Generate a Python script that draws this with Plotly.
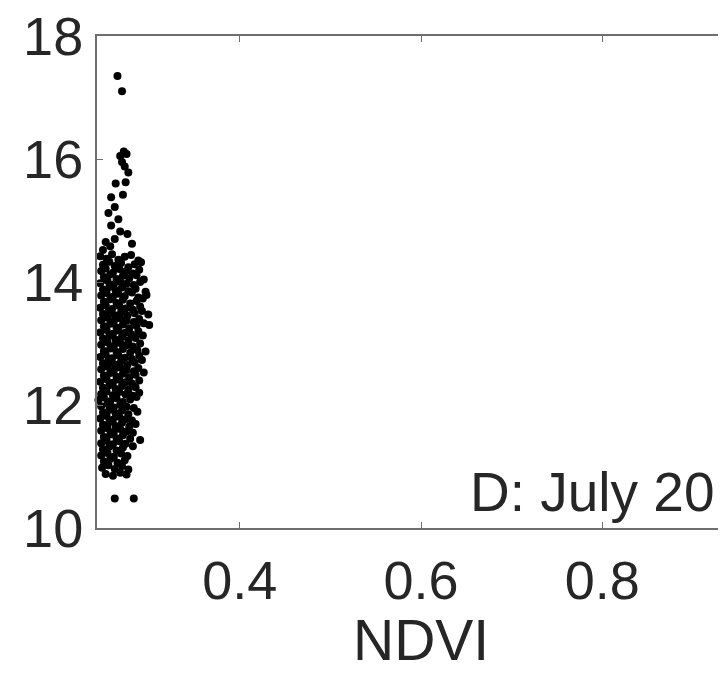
import plotly.graph_objects as go

# NDVI (x) and land surface temperature (y) values
ndvi = [
    0.265, 0.270, 0.268, 0.272, 0.275, 0.270, 0.273, 0.277, 0.274, 0.263, 0.258, 0.271,
    0.262, 0.255, 0.266, 0.258, 0.268, 0.276, 0.262, 0.252, 0.281, 0.257, 0.249,
    0.246, 0.253, 0.259, 0.266, 0.273, 0.280, 0.288,
    0.249, 0.256, 0.262, 0.269, 0.277, 0.284, 0.291,
    0.247, 0.252, 0.260, 0.267, 0.274, 0.282, 0.289,
    0.250, 0.257, 0.264, 0.271, 0.278, 0.286, 0.294,
    0.246, 0.254, 0.261, 0.268, 0.275, 0.283, 0.290,
    0.249, 0.256, 0.263, 0.270, 0.277, 0.285, 0.296,
    0.247, 0.253, 0.260, 0.266, 0.273, 0.281, 0.288, 0.297,
    0.250, 0.257, 0.264, 0.271, 0.279, 0.286, 0.293,
    0.246, 0.252, 0.259, 0.267, 0.274, 0.282, 0.290,
    0.249, 0.255, 0.262, 0.269, 0.276, 0.284, 0.292, 0.299,
    0.247, 0.254, 0.261, 0.268, 0.275, 0.283, 0.289,
    0.250, 0.257, 0.264, 0.271, 0.278, 0.286, 0.294, 0.300,
    0.246, 0.253, 0.260, 0.266, 0.273, 0.280, 0.288,
    0.249, 0.256, 0.263, 0.270, 0.277, 0.285, 0.293,
    0.247, 0.254, 0.261, 0.268, 0.275, 0.282, 0.290,
    0.250, 0.257, 0.264, 0.271, 0.279, 0.287, 0.296,
    0.246, 0.252, 0.259, 0.266, 0.273, 0.281, 0.289,
    0.249, 0.255, 0.262, 0.269, 0.276, 0.284, 0.292,
    0.247, 0.254, 0.261, 0.268, 0.275, 0.283, 0.288,
    0.250, 0.257, 0.264, 0.271, 0.278, 0.285, 0.294,
    0.246, 0.253, 0.260, 0.267, 0.274, 0.281, 0.289,
    0.249, 0.256, 0.263, 0.270, 0.277, 0.285,
    0.247, 0.253, 0.260, 0.267, 0.274, 0.282, 0.289,
    0.244, 0.250, 0.257, 0.264, 0.271, 0.279, 0.286,
    0.247, 0.254, 0.261, 0.268, 0.275, 0.283,
    0.249, 0.256, 0.263, 0.270, 0.277, 0.287,
    0.246, 0.253, 0.260, 0.267, 0.274, 0.281,
    0.249, 0.256, 0.263, 0.270, 0.278, 0.285,
    0.247, 0.254, 0.261, 0.268, 0.275, 0.282,
    0.250, 0.257, 0.264, 0.271, 0.279,
    0.247, 0.253, 0.260, 0.267, 0.274, 0.290,
    0.249, 0.256, 0.264, 0.271, 0.282,
    0.247, 0.254, 0.261, 0.269, 0.276,
    0.250, 0.257, 0.265, 0.273,
    0.248, 0.255, 0.262, 0.270, 0.277,
    0.252, 0.260, 0.268, 0.275,
    0.262, 0.283,
]
lst = [
    17.35, 17.10, 16.05, 16.12, 16.08, 15.95, 15.88, 15.78, 15.62, 15.60, 15.38, 15.42,
    15.22, 15.12, 15.02, 14.92, 14.82, 14.78, 14.70, 14.65, 14.62, 14.58, 14.52,
    14.42, 14.38, 14.45, 14.36, 14.41, 14.44, 14.35,
    14.28, 14.33, 14.26, 14.31, 14.24, 14.29, 14.32,
    14.18, 14.22, 14.15, 14.21, 14.17, 14.14, 14.20,
    14.08, 14.12, 14.05, 14.10, 14.06, 14.11, 14.04,
    13.98, 14.02, 13.96, 14.01, 13.97, 13.95, 14.00,
    13.88, 13.92, 13.86, 13.91, 13.85, 13.89, 13.84,
    13.78, 13.82, 13.76, 13.81, 13.77, 13.83, 13.75, 13.79,
    13.68, 13.72, 13.66, 13.71, 13.65, 13.69, 13.73,
    13.58, 13.62, 13.56, 13.61, 13.57, 13.55, 13.60,
    13.48, 13.52, 13.46, 13.51, 13.45, 13.49, 13.53, 13.47,
    13.38, 13.42, 13.36, 13.41, 13.37, 13.35, 13.40,
    13.28, 13.32, 13.26, 13.31, 13.25, 13.29, 13.33, 13.30,
    13.18, 13.22, 13.16, 13.21, 13.17, 13.15, 13.20,
    13.08, 13.12, 13.06, 13.11, 13.05, 13.09, 13.13,
    12.98, 13.02, 12.96, 13.01, 12.97, 12.95, 13.00,
    12.88, 12.92, 12.86, 12.91, 12.85, 12.89, 12.87,
    12.78, 12.82, 12.76, 12.81, 12.77, 12.75, 12.80,
    12.68, 12.72, 12.66, 12.71, 12.65, 12.69, 12.73,
    12.58, 12.62, 12.56, 12.61, 12.57, 12.55, 12.60,
    12.48, 12.52, 12.46, 12.51, 12.45, 12.49, 12.53,
    12.38, 12.42, 12.36, 12.41, 12.37, 12.35, 12.40,
    12.28, 12.32, 12.26, 12.31, 12.25, 12.29,
    12.18, 12.22, 12.16, 12.21, 12.17, 12.15, 12.20,
    12.08, 12.12, 12.06, 12.11, 12.05, 12.09, 12.13,
    11.98, 12.02, 11.96, 12.01, 11.97, 11.95,
    11.88, 11.92, 11.86, 11.91, 11.85, 11.89,
    11.78, 11.82, 11.76, 11.81, 11.77, 11.75,
    11.68, 11.72, 11.66, 11.71, 11.65, 11.69,
    11.58, 11.62, 11.56, 11.61, 11.57, 11.55,
    11.48, 11.52, 11.46, 11.51, 11.45,
    11.38, 11.42, 11.36, 11.41, 11.37, 11.43,
    11.28, 11.32, 11.26, 11.31, 11.33,
    11.18, 11.22, 11.16, 11.21, 11.17,
    11.08, 11.12, 11.06, 11.10,
    10.98, 11.02, 10.96, 11.01, 10.95,
    10.88, 10.85, 10.90, 10.87,
    10.48, 10.48,
]

x_ticks = [0.4, 0.6, 0.8]
y_ticks = [10, 12, 14, 16, 18]
x_range = [0.2424, 0.9366]
y_range = [10, 18]
panel_label = "D: July 20"
x_title = "NDVI"

FONT = "Liberation Sans, Arial, Helvetica, sans-serif"
AXIS_COL = "#6e6e6e"
TXT_COL = "#262626"

fig = go.Figure()
fig.add_trace(go.Scatter(
    x=ndvi, y=lst, mode="markers",
    marker=dict(color="black", size=8, line=dict(width=0)),
    showlegend=False, hoverinfo="skip", cliponaxis=False,
))
# invisible trace so the top (mirror) axis is drawn
fig.add_trace(go.Scatter(
    x=ndvi[:1], y=lst[:1], xaxis="x2", mode="markers",
    marker=dict(opacity=0), showlegend=False, hoverinfo="skip",
))

fig.update_layout(
    width=726, height=678,
    margin=dict(l=89, r=8, t=28, b=158),
    paper_bgcolor="white", plot_bgcolor="white",
    font=dict(family=FONT, color=TXT_COL),
    xaxis=dict(
        range=x_range, tickvals=x_ticks, ticktext=[str(v) for v in x_ticks],
        showgrid=False, zeroline=False, automargin=False,
        showline=True, linecolor=AXIS_COL, linewidth=2,
        ticks="inside", ticklen=6, tickcolor=AXIS_COL, tickwidth=1,
        tickfont=dict(size=54, color=TXT_COL), ticklabelstandoff=4,
        ticklabeloverflow="allow",
    ),
    xaxis2=dict(
        overlaying="x", side="top", matches="x", range=x_range,
        tickvals=x_ticks, showticklabels=False, automargin=False,
        showgrid=False, zeroline=False,
        showline=True, linecolor=AXIS_COL, linewidth=2,
        ticks="inside", ticklen=6, tickcolor=AXIS_COL, tickwidth=1,
    ),
    yaxis=dict(
        range=y_range, tickvals=y_ticks, ticktext=[str(v) for v in y_ticks],
        showgrid=False, zeroline=False, automargin=False,
        showline=True, linecolor=AXIS_COL, linewidth=2,
        ticks="inside", ticklen=6, tickcolor=AXIS_COL, tickwidth=1,
        tickfont=dict(size=54, color=TXT_COL), ticklabelstandoff=1,
        ticklabeloverflow="allow",
    ),
    annotations=[
        dict(text=panel_label, xref="x", yref="y", x=0.927, y=10.05,
             xanchor="right", yanchor="bottom", showarrow=False,
             font=dict(size=55, color=TXT_COL, family=FONT)),
        dict(text=x_title, xref="x", yref="paper", x=0.6, y=0,
             xanchor="center", yanchor="middle", yshift=-112, showarrow=False,
             font=dict(size=57, color=TXT_COL, family=FONT)),
    ],
)

fig.write_html("out.html")
